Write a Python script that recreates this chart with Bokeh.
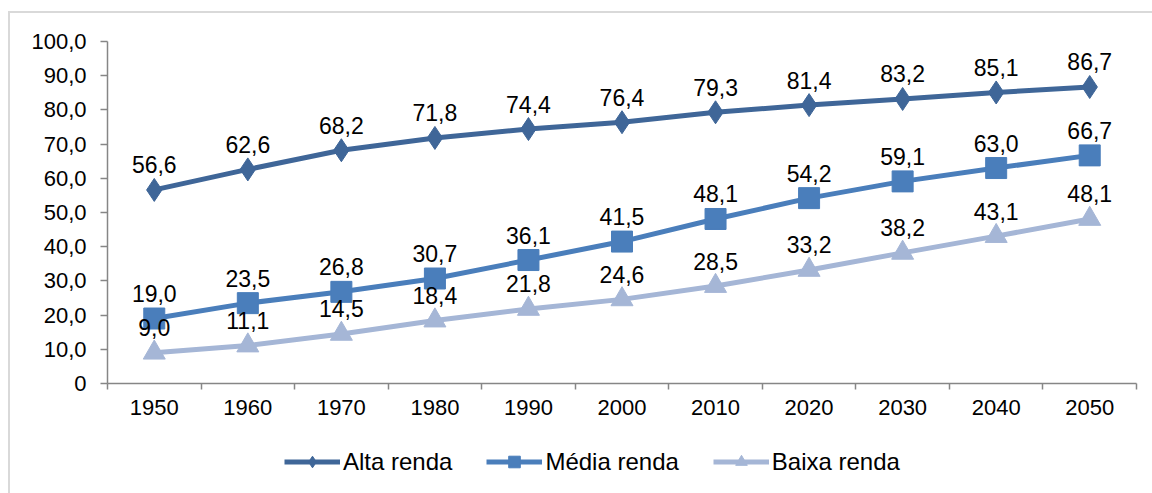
from bokeh.plotting import figure
from bokeh.layouts import column
from bokeh.models import FixedTicker, Legend, LegendItem, ColumnDataSource
from bokeh.core.properties import value
from bokeh.embed import file_html
from bokeh.resources import INLINE

years = [1950, 1960, 1970, 1980, 1990, 2000, 2010, 2020, 2030, 2040, 2050]
alta = [56.6, 62.6, 68.2, 71.8, 74.4, 76.4, 79.3, 81.4, 83.2, 85.1, 86.7]
media = [19.0, 23.5, 26.8, 30.7, 36.1, 41.5, 48.1, 54.2, 59.1, 63.0, 66.7]
baixa = [9.0, 11.1, 14.5, 18.4, 21.8, 24.6, 28.5, 33.2, 38.2, 43.1, 48.1]
series_names = ["Alta renda", "Média renda", "Baixa renda"]
y_ticks = [0, 10, 20, 30, 40, 50, 60, 70, 80, 90, 100]

FONT = "Liberation Sans"
colors = ["#3F6698", "#4A7EBB", "#A5B6D6"]
markers = ["diamond", "square", "triangle"]
sizes = [23, 21, 22]

p = figure(width=1152, height=430, output_backend="svg", toolbar_location=None,
           x_range=(1945, 2055), y_range=(0, 100),
           min_border_left=107, min_border_right=16, min_border_top=41, min_border_bottom=47)
p.border_fill_alpha = 0
p.background_fill_alpha = 0
p.outline_line_color = None
p.xgrid.visible = False
p.ygrid.visible = False

p.xaxis.ticker = FixedTicker(ticks=years, minor_ticks=[y - 5 for y in years] + [2055])
p.xaxis.major_tick_out = 0
p.xaxis.major_tick_in = 0
p.xaxis.minor_tick_out = 6
p.xaxis.minor_tick_in = 0
p.xaxis.minor_tick_line_color = "#868686"
p.xaxis.major_label_standoff = 10

p.yaxis.ticker = FixedTicker(ticks=y_ticks)
p.yaxis.major_label_overrides = {t: ("0" if t == 0 else f"{t},0") for t in y_ticks}
p.yaxis.major_tick_out = 7
p.yaxis.major_tick_in = 0
p.yaxis.minor_tick_line_color = None
p.yaxis.major_label_standoff = 14

for ax in (p.xaxis, p.yaxis):
    ax.axis_line_color = "#868686"
    ax.axis_line_width = 1.5
    ax.major_tick_line_color = "#868686"
    ax.major_tick_line_width = 1.5
    ax.minor_tick_line_width = 1.5
    ax.major_label_text_font = FONT
    ax.major_label_text_font_size = "22px"
    ax.major_label_text_color = "#000000"

# legend strip below the chart
q = figure(width=1152, height=63, output_backend="svg", toolbar_location=None,
           x_range=(0, 1152), y_range=(0, 63),
           min_border_left=107, min_border_right=16, min_border_top=0, min_border_bottom=0)
q.border_fill_alpha = 0
q.background_fill_alpha = 0
q.outline_line_color = None
q.axis.visible = False
q.grid.visible = False

items = []
for name, vals, col, mk, sz in zip(series_names, [alta, media, baixa], colors, markers, sizes):
    src = ColumnDataSource(dict(x=years, y=vals, lab=[f"{v:.1f}".replace(".", ",") for v in vals]))
    p.line("x", "y", source=src, line_color=col, line_width=5)
    p.scatter("x", "y", source=src, marker=mk, size=sz, fill_color=col, line_color=col)
    p.text("x", "y", text="lab", source=src, text_font=value(FONT), text_font_size="23px",
           text_align="center", text_baseline="alphabetic", y_offset=-25, text_color="#000000")
    empty = ColumnDataSource(dict(x=[float("nan")], y=[float("nan")]))
    ln = q.line("x", "y", source=empty, line_color=col, line_width=5)
    sc = q.scatter("x", "y", source=empty, marker=mk, size=sz, fill_color=col, line_color=col)
    items.append(LegendItem(label=name, renderers=[ln, sc]))

legend = Legend(items=items, orientation="horizontal", location=(177, 17),
                glyph_width=56, glyph_height=29, label_standoff=3, spacing=34,
                padding=0, margin=0, border_line_color=None, background_fill_alpha=0,
                label_text_font=FONT, label_text_font_size="24px", label_text_color="#000000")
q.add_layout(legend, "center")

layout = column(p, q, spacing=0)
layout.styles = {"background": "linear-gradient(#d9d9d9,#d9d9d9) 8px 11px / 100% 2px no-repeat, "
                               "linear-gradient(#d9d9d9,#d9d9d9) 8px 11px / 2px 100% no-repeat, #ffffff"}

open("out.html", "w").write(file_html(layout, INLINE))
